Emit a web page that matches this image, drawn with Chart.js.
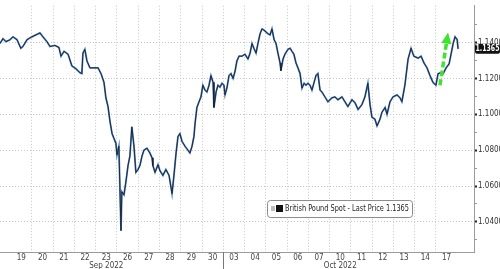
<!DOCTYPE html>
<html>
<head>
<meta charset="utf-8">
<script src="https://cdn.jsdelivr.net/npm/chart.js@4.4.1/dist/chart.umd.min.js"></script>
<style>
  html, body { margin: 0; padding: 0; background: #fff; }
  #wrap { width: 500px; height: 269px; position: relative; }
</style>
</head>
<body>
<div id="wrap"><canvas id="chart"></canvas></div>
<script>
// trading days on the x axis, Sep 19 .. Oct 17 2022
const dayLabels = ["19", "20", "21", "22", "23", "26", "27", "28", "29", "30",
  "03", "04", "05", "06", "07", "10", "11", "12", "13", "14", "17"];
// month captions sit under these day indexes
const monthLabels = { 4: "Sep 2022", 15: "Oct 2022" };

// time in trading days since the Sep 19 open (day i covers i..i+1)
const times = [
  -0.50, -0.36, -0.22, -0.03, 0.11, 0.30, 0.48, 0.58, 0.77, 1.00,
  1.19, 1.38, 1.52, 1.71, 1.85, 2.08, 2.27, 2.37, 2.51, 2.70,
  2.88, 3.07, 3.26, 3.35, 3.40, 3.49, 3.59, 3.73, 3.96, 4.11,
  4.25, 4.39, 4.48, 4.58, 4.67, 4.77, 4.86, 4.95, 5.00, 5.09,
  5.19, 5.23, 5.33, 5.42, 5.52, 5.61, 5.70, 5.80, 5.89, 5.99,
  6.08, 6.18, 6.27, 6.41, 6.55, 6.65, 6.69, 6.79, 6.93, 7.02,
  7.16, 7.30, 7.45, 7.59, 7.68, 7.78, 7.87, 7.96, 8.06, 8.20,
  8.34, 8.43, 8.53, 8.62, 8.67, 8.76, 8.86, 8.95, 9.04, 9.14,
  9.23, 9.33, 9.42, 9.52, 9.56, 9.66, 9.75, 9.84, 9.94, 10.03,
  10.08, 10.17, 10.27, 10.36, 10.46, 10.55, 10.64, 10.74, 10.88, 11.02,
  11.16, 11.26, 11.35, 11.44, 11.54, 11.63, 11.73, 11.82, 11.91, 12.01,
  12.10, 12.20, 12.29, 12.39, 12.48, 12.57, 12.67, 12.71, 12.81, 12.90,
  13.04, 13.14, 13.23, 13.32, 13.42, 13.51, 13.61, 13.70, 13.80, 13.89,
  13.98, 14.08, 14.17, 14.27, 14.36, 14.45, 14.55, 14.64, 14.78, 14.92,
  15.11, 15.25, 15.39, 15.58, 15.72, 15.86, 16.05, 16.19, 16.34, 16.52,
  16.66, 16.80, 16.90, 16.99, 17.13, 17.23, 17.37, 17.46, 17.61, 17.70,
  17.84, 17.98, 18.17, 18.31, 18.40, 18.54, 18.69, 18.83, 18.96, 19.16,
  19.30, 19.44, 19.58, 19.72, 19.86, 20.00, 20.10, 20.24, 20.34, 20.48,
  20.62, 20.72, 20.81, 20.90, 21.00, 21.04
];

// GBP spot, last price
const prices = [
  1.1395, 1.1422, 1.1405, 1.1416, 1.1432, 1.1416, 1.1368, 1.1378, 1.1416, 1.1432,
  1.1443, 1.1454, 1.1432, 1.1405, 1.1378, 1.1384, 1.1373, 1.1324, 1.1351, 1.1335,
  1.1270, 1.1254, 1.1232, 1.1227, 1.1341, 1.1362, 1.1297, 1.1259, 1.1259, 1.1259,
  1.1227, 1.1178, 1.1092, 1.1043, 1.0962, 1.0892, 1.0865, 1.0838, 1.0773, 1.0822,
  1.0351, 1.0568, 1.0551, 1.0622, 1.0714, 1.0768, 1.0930, 1.0822, 1.0676, 1.0692,
  1.0714, 1.0768, 1.0800, 1.0811, 1.0784, 1.0757, 1.0714, 1.0676, 1.0719, 1.0686,
  1.0659, 1.0692, 1.0659, 1.0557, 1.0659, 1.0784, 1.0876, 1.0892, 1.0849, 1.0822,
  1.0800, 1.0784, 1.0822, 1.0876, 1.0946, 1.1038, 1.1070, 1.1097, 1.1162, 1.1135,
  1.1124, 1.1162, 1.1216, 1.1178, 1.1038, 1.1124, 1.1162, 1.1151, 1.1173, 1.1162,
  1.1108, 1.1146, 1.1216, 1.1227, 1.1200, 1.1238, 1.1297, 1.1324, 1.1324, 1.1335,
  1.1308, 1.1341, 1.1395, 1.1368, 1.1341, 1.1395, 1.1449, 1.1476, 1.1470, 1.1459,
  1.1449, 1.1443, 1.1476, 1.1416, 1.1395, 1.1341, 1.1286, 1.1243, 1.1308, 1.1335,
  1.1362, 1.1368, 1.1351, 1.1335, 1.1286, 1.1259, 1.1227, 1.1146, 1.1173, 1.1162,
  1.1173, 1.1162, 1.1135, 1.1178, 1.1216, 1.1227, 1.1135, 1.1124, 1.1097, 1.1070,
  1.1092, 1.1097, 1.1081, 1.1097, 1.1070, 1.1043, 1.1081, 1.1065, 1.1027, 1.1054,
  1.1097, 1.1173, 1.1054, 1.0984, 1.0973, 1.0935, 1.0973, 1.1011, 1.1038, 1.1000,
  1.1070, 1.1097, 1.1108, 1.1092, 1.1070, 1.1162, 1.1308, 1.1368, 1.1324, 1.1313,
  1.1324, 1.1286, 1.1259, 1.1216, 1.1178, 1.1162, 1.1227, 1.1232, 1.1227, 1.1259,
  1.1281, 1.1341, 1.1395, 1.1432, 1.1416, 1.1365
];

// right axis: labelled every 0.02, small ticks in between
const yTicks = [1.03, 1.04, 1.05, 1.06, 1.07, 1.08, 1.09, 1.10, 1.11, 1.12, 1.13, 1.14, 1.15];

// green "up" arrow drawn on the last day (data coords)
const arrowFrom = { t: 20.19, v: 1.1162 };
const arrowTo = { t: 20.57, v: 1.1456 };

const FONT = "'Liberation Sans Narrow', 'DejaVu Sans Condensed', 'Liberation Sans', sans-serif";
Chart.defaults.font.family = FONT;

const isMajor = v => Math.round(v * 100) % 2 === 0;
const lastPrice = prices[prices.length - 1];

const extras = {
  id: "extras",
  afterDatasetsDraw(chart) {
    const { ctx, scales: { x, y } } = chart;
    // dashed green arrow
    const x1 = x.getPixelForValue(arrowFrom.t), y1 = y.getPixelForValue(arrowFrom.v);
    const x2 = x.getPixelForValue(arrowTo.t), y2 = y.getPixelForValue(arrowTo.v);
    const ang = Math.atan2(y2 - y1, x2 - x1);
    const head = 11;
    const bx = x2 - Math.cos(ang) * head, by = y2 - Math.sin(ang) * head;
    ctx.save();
    ctx.strokeStyle = "#3fe22f";
    ctx.fillStyle = "#3fe22f";
    ctx.lineWidth = 3.5;
    ctx.setLineDash([6, 3]);
    ctx.beginPath();
    ctx.moveTo(x1, y1);
    ctx.lineTo(bx, by);
    ctx.stroke();
    ctx.setLineDash([]);
    ctx.beginPath();
    ctx.moveTo(x2, y2);
    ctx.lineTo(bx + Math.sin(ang) * 5, by - Math.cos(ang) * 5);
    ctx.lineTo(bx - Math.sin(ang) * 5, by + Math.cos(ang) * 5);
    ctx.closePath();
    ctx.fill();
    ctx.restore();
  },
  afterDraw(chart) {
    const { ctx, chartArea, scales: { x, y } } = chart;
    ctx.save();
    // month separator under the axis
    const sx = Math.round(x.getPixelForValue(10)) + 0.5;
    ctx.strokeStyle = "#777";
    ctx.lineWidth = 1;
    ctx.beginPath();
    ctx.moveTo(sx, chartArea.bottom);
    ctx.lineTo(sx, chart.height);
    ctx.stroke();

    // legend box
    ctx.beginPath();
    ctx.roundRect(267.5, 200.5, 145, 17, 3);
    ctx.fillStyle = "#fff";
    ctx.fill();
    ctx.strokeStyle = "#8c8c8c";
    ctx.stroke();
    ctx.fillStyle = "#bdbdbd";
    ctx.fillRect(271, 206, 4, 5);
    ctx.fillStyle = "#111";
    ctx.fillRect(276, 205, 7, 7);
    ctx.fillStyle = "#222";
    ctx.font = "9px " + FONT;
    ctx.textBaseline = "middle";
    ctx.fillText("British Pound Spot - Last Price " + lastPrice.toFixed(4), 285, 209, 124);

    // last price tag on the right axis
    const py = y.getPixelForValue(lastPrice);
    ctx.beginPath();
    ctx.roundRect(475, py - 5, 25, 10, 2);
    ctx.fillStyle = "#111";
    ctx.fill();
    ctx.fillStyle = "#fff";
    ctx.font = "bold 8px " + FONT;
    ctx.textAlign = "center";
    ctx.fillText(lastPrice.toFixed(4), 487.5, py + 0.5, 24);
    ctx.restore();
  }
};

const ctx = document.getElementById("chart");
const points = times.map((t, i) => ({ x: t, y: prices[i] }));

new Chart(ctx, {
  type: "line",
  data: {
    datasets: [
      {
        data: points,
        borderColor: "#18202b",
        borderWidth: 0.9,
        pointRadius: 0,
        tension: 0,
        order: 0,
      },
      {
        data: points,
        borderColor: "#4f82bf",
        borderWidth: 1.8,
        pointRadius: 0,
        tension: 0,
        order: 1,
      },
    ],
  },
  options: {
    responsive: true,
    maintainAspectRatio: false,
    animation: false,
    layout: { padding: 0 },
    plugins: {
      legend: { display: false },
      tooltip: { enabled: false },
    },
    scales: {
      x: {
        type: "linear",
        min: -0.5,
        max: 21.79,
        afterBuildTicks: s => {
          const ticks = [];
          dayLabels.forEach((d, i) => {
            if (i > 0) ticks.push({ value: i });
            ticks.push({ value: i + 0.5 });
          });
          s.ticks = ticks;
        },
        afterFit: s => { s.height = 17; },
        ticks: {
          autoSkip: false,
          maxRotation: 0,
          padding: 2,
          color: "#444",
          font: { size: 8, lineHeight: 1 },
          callback: v => {
            if (Number.isInteger(v)) return "";
            const i = Math.floor(v);
            return monthLabels[i] ? [dayLabels[i], monthLabels[i]] : dayLabels[i];
          },
        },
        grid: {
          drawTicks: false,
          color: c => (c.tick && Number.isInteger(c.tick.value) ? "#c6c6c6" : "rgba(0,0,0,0)"),
          lineWidth: 1,
        },
        border: { display: true, color: "#9a9a9a", dash: [1, 2] },
      },
      y: {
        position: "right",
        min: 1.0232,
        max: 1.1605,
        afterBuildTicks: s => { s.ticks = yTicks.map(v => ({ value: v })); },
        afterFit: s => { s.width = 26; },
        ticks: {
          padding: 1,
          color: "#333",
          font: { size: 8 },
          callback: v => (isMajor(v) ? v.toFixed(4) : ""),
        },
        grid: {
          tickLength: 3,
          color: c => (c.tick && isMajor(c.tick.value) ? "#c6c6c6" : "rgba(0,0,0,0)"),
          tickColor: c => (c.tick && isMajor(c.tick.value) ? "#222" : "#999"),
          tickWidth: c => (c.tick && isMajor(c.tick.value) ? 2 : 1),
        },
        border: { display: true, color: "#9a9a9a", dash: [1, 2] },
      },
    },
  },
  plugins: [extras],
});
</script>
</body>
</html>
